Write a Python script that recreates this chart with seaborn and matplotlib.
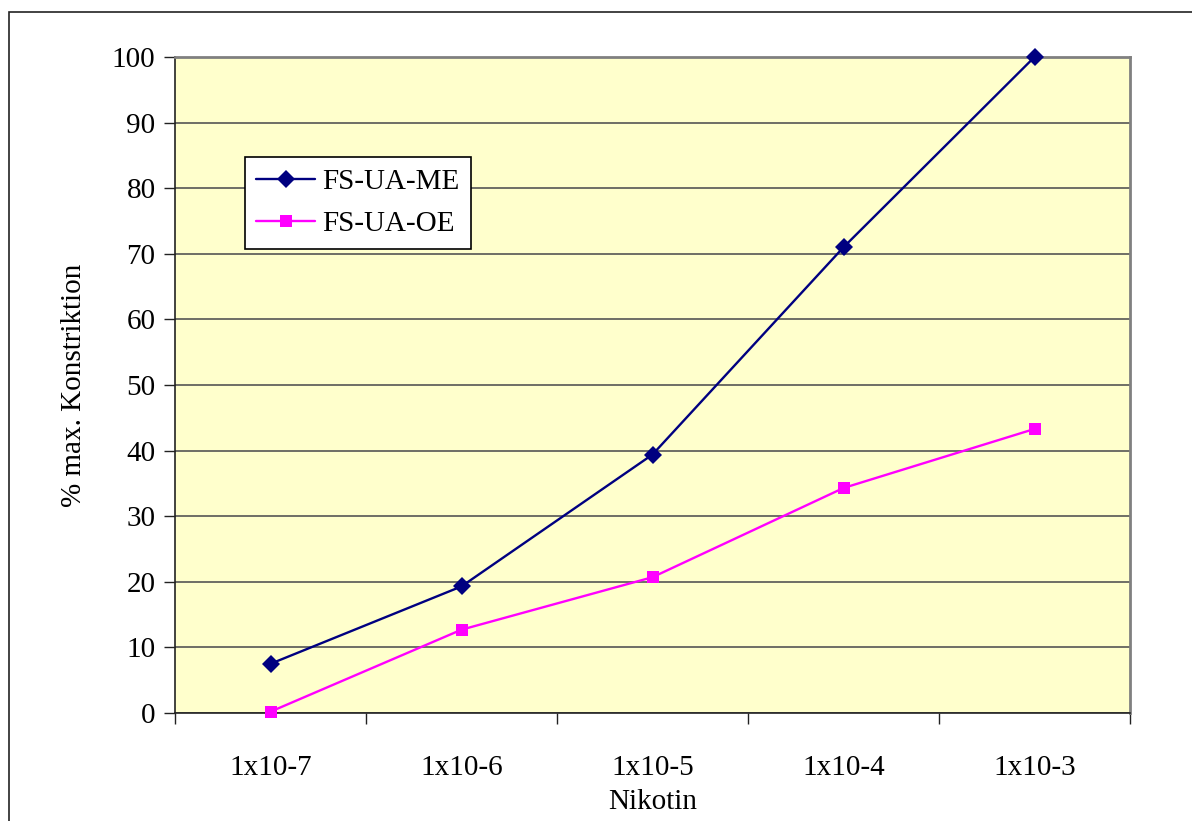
# Nikotin-Dosis-Wirkungskurve
import pandas as pd
import matplotlib.pyplot as plt
import seaborn as sns
from matplotlib.patches import Rectangle

# Daten
konzentration = ['1x10-7', '1x10-6', '1x10-5', '1x10-4', '1x10-3']
fs_ua_me = [7.5, 19.3, 39.4, 71.0, 100.0]
fs_ua_oe = [0.2, 12.7, 20.7, 34.3, 43.3]

df = pd.DataFrame({
    'pos': list(range(len(konzentration))) * 2,
    'wert': fs_ua_me + fs_ua_oe,
    'serie': ['FS-UA-ME'] * len(fs_ua_me) + ['FS-UA-OE'] * len(fs_ua_oe),
})

sns.set_style('white')
plt.rcParams['font.family'] = ['Liberation Serif', 'DejaVu Serif']
plt.rcParams['text.color'] = 'black'
plt.rcParams['axes.labelcolor'] = 'black'
plt.rcParams['xtick.color'] = 'black'
plt.rcParams['ytick.color'] = 'black'

fig = plt.figure(figsize=(11.92, 8.21), dpi=100)
ax = fig.add_axes([175 / 1192, 1 - 713 / 821, 955 / 1192, 656 / 821])
ax.set_facecolor('#FFFFCC')

# Rahmen um das Diagramm (rechts/unten abgeschnitten)
fig.patches.append(Rectangle((9 / 1192, -0.1), 1.2, 1 - 12 / 821 + 0.1,
                             transform=fig.transFigure, fill=False,
                             edgecolor='#222222', linewidth=1.2))

sns.lineplot(data=df, x='pos', y='wert', hue='serie', style='serie',
             palette={'FS-UA-ME': '#000080', 'FS-UA-OE': '#FF00FF'},
             markers={'FS-UA-ME': 'D', 'FS-UA-OE': 's'},
             dashes=False, markersize=9, markeredgewidth=0,
             linewidth=1.7, ax=ax, zorder=3)
for ln in ax.lines:
    ln.set_clip_on(False)

ax.set_xlim(-0.5, len(konzentration) - 0.5)
ax.set_ylim(0, 100)
ax.set_yticks(range(0, 101, 10))
ax.yaxis.grid(True, color='#555555', linewidth=1.2)
ax.set_axisbelow(True)

# Kategorien zwischen den Teilstrichen
ax.set_xticks([i - 0.5 for i in range(len(konzentration) + 1)])
ax.set_xticklabels([])
ax.set_xticks(range(len(konzentration)), minor=True)
ax.set_xticklabels(konzentration, minor=True)
ax.tick_params(axis='x', which='major', bottom=True, length=8, width=1,
               color='#222222', direction='out')
ax.tick_params(axis='x', which='minor', bottom=False, length=0, pad=30, labelsize=21)
ax.tick_params(axis='y', left=True, length=8, width=1, color='#222222',
               direction='out', pad=6, labelsize=21)

for s in ['left', 'bottom']:
    ax.spines[s].set_color('#222222')
    ax.spines[s].set_linewidth(1.2)
for s in ['right', 'top']:
    ax.spines[s].set_color('#808080')
    ax.spines[s].set_linewidth(2)

ax.set_xlabel('Nikotin', fontsize=21, labelpad=6)
ax.set_ylabel('% max. Konstriktion', fontsize=21, labelpad=18)

leg = ax.legend(loc='upper left', bbox_to_anchor=(0.073, 0.848), fontsize=21,
                frameon=True, fancybox=False, framealpha=1, edgecolor='black',
                borderpad=0.4, labelspacing=0.55, handlelength=2.0,
                handletextpad=0.25, borderaxespad=0)
leg.get_frame().set_linewidth(1.2)

plt.savefig('out.png', dpi=100)
